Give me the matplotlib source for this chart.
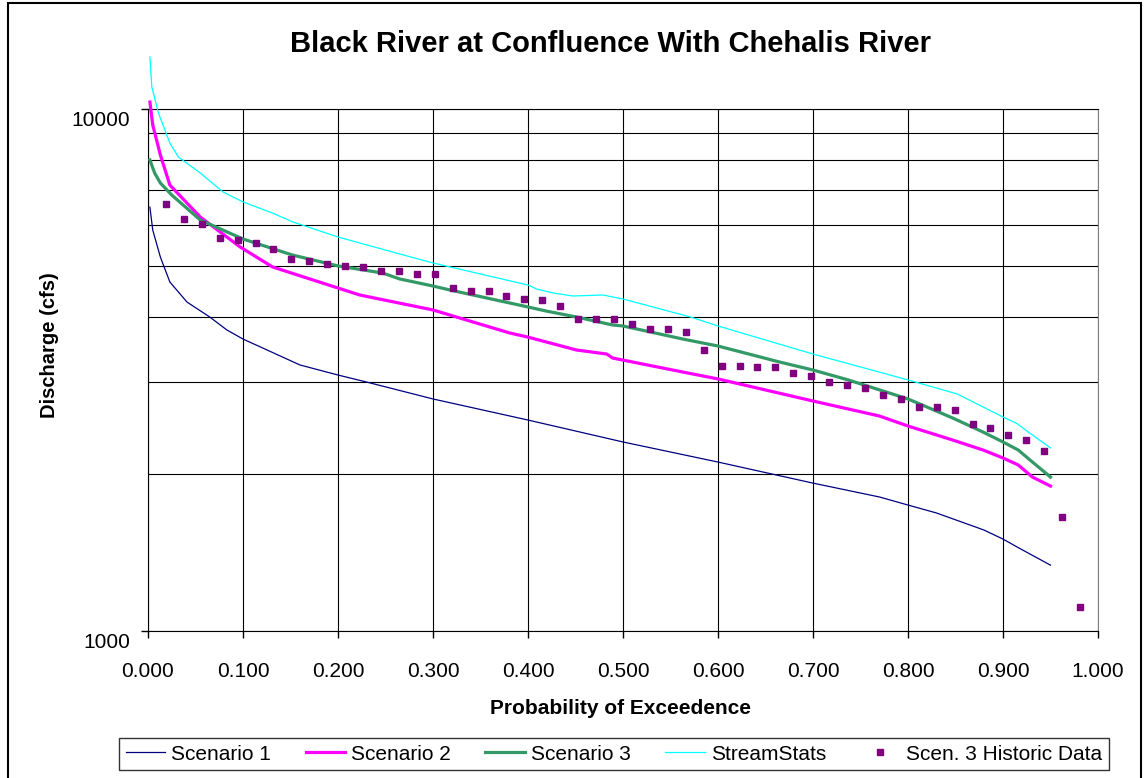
import matplotlib
matplotlib.use("Agg")
import matplotlib.pyplot as plt
import matplotlib.transforms as mtransforms
from matplotlib.patches import Rectangle

plt.rcParams['font.family'] = ['Liberation Sans', 'DejaVu Sans']

# Scenario 1 (probability, discharge)
s1_p = [0.002, 0.005, 0.013, 0.023, 0.041, 0.065, 0.083, 0.100, 0.160, 0.200, 0.230,
        0.300, 0.400, 0.500, 0.600, 0.700, 0.770, 0.800, 0.830, 0.880, 0.900, 0.915, 0.950]
s1_q = [6486, 5862, 5206, 4663, 4268, 3995, 3773, 3625, 3233, 3093, 2999,
        2783, 2536, 2302, 2107, 1920, 1806, 1743, 1683, 1561, 1500, 1448, 1337]

# Scenario 2
s2_p = [0.002, 0.005, 0.013, 0.023, 0.055, 0.097, 0.131, 0.200, 0.223, 0.300, 0.381,
        0.400, 0.451, 0.483, 0.489, 0.563, 0.600, 0.700, 0.770, 0.800, 0.847, 0.879,
        0.900, 0.916, 0.931, 0.950]
s2_q = [10310, 9318, 8166, 7150, 6210, 5441, 4983, 4540, 4402, 4121, 3722,
        3656, 3454, 3393, 3334, 3134, 3040, 2758, 2581, 2470, 2322, 2222,
        2145, 2080, 1972, 1895]

# Scenario 3
s3_p = [0.002, 0.007, 0.013, 0.025, 0.055, 0.100, 0.152, 0.200, 0.247, 0.265, 0.300,
        0.318, 0.400, 0.419, 0.451, 0.489, 0.500, 0.563, 0.600, 0.665, 0.700, 0.737,
        0.800, 0.847, 0.879, 0.900, 0.916, 0.931, 0.950]
s3_q = [7985, 7541, 7215, 6842, 6128, 5636, 5251, 5005, 4850, 4725, 4580,
        4500, 4176, 4102, 3995, 3857, 3840, 3625, 3515, 3275, 3162, 3027,
        2783, 2559, 2405, 2302, 2222, 2107, 1972]

# StreamStats
ss_p = [0.002, 0.004, 0.011, 0.023, 0.032, 0.055, 0.079, 0.100, 0.131, 0.152, 0.200,
        0.223, 0.265, 0.300, 0.400, 0.409, 0.426, 0.447, 0.479, 0.500, 0.571, 0.600,
        0.700, 0.800, 0.852, 0.879, 0.900, 0.914, 0.928, 0.950]
ss_q = [12580, 11020, 9825, 8605, 8090, 7541, 6934, 6637, 6320, 6081, 5686,
        5537, 5275, 5070, 4600, 4520, 4443, 4383, 4402, 4325, 3995, 3840,
        3393, 3027, 2844, 2686, 2570, 2502, 2395, 2242]

# Scen. 3 historic data, plotting position i/53
hist_q = [6577, 6155, 6023, 5660, 5610, 5537, 5394, 5161, 5116, 5049,
          5005, 4983, 4894, 4894, 4829, 4829, 4540, 4481, 4481, 4383,
          4325, 4306, 4194, 3960, 3960, 3960, 3874, 3790, 3790, 3740,
          3454, 3219, 3219, 3205, 3205, 3121, 3080, 2999, 2960, 2921,
          2833, 2783, 2686, 2686, 2651, 2492, 2448, 2373, 2322, 2212,
          1654, 1112]
hist_p = [(i + 1) / (len(hist_q) + 1) for i in range(len(hist_q))]

x_ticks = [0.0, 0.1, 0.2, 0.3, 0.4, 0.5, 0.6, 0.7, 0.8, 0.9, 1.0]

fig = plt.figure(figsize=(11.47, 7.78), dpi=100)
ax = fig.add_axes([148 / 1147, 1 - 631 / 778, 950 / 1147, 522 / 778])

ax.plot(s1_p, s1_q, color='#000080', lw=0.9, label='Scenario 1', clip_on=False, zorder=3)
ax.plot(s2_p, s2_q, color='#FF00FF', lw=2.3, label='Scenario 2', clip_on=False, zorder=3)
ax.plot(s3_p, s3_q, color='#339966', lw=2.3, label='Scenario 3', clip_on=False, zorder=3)
ax.plot(ss_p, ss_q, color='#00FFFF', lw=0.9, label='StreamStats', clip_on=False, zorder=3)
ax.plot(hist_p, hist_q, ls='none', marker='s', ms=5, color='#800080',
        label='Scen. 3 Historic Data', clip_on=False, zorder=4)

ax.set_yscale('log')
ax.set_ylim(1000, 10000)
ax.set_xlim(0, 1)
ax.set_yticks([1000, 10000])
ax.set_yticklabels(['1000', '10000'])
ax.set_yticks([2000, 3000, 4000, 5000, 6000, 7000, 8000, 9000], minor=True)
ax.yaxis.set_minor_formatter(plt.NullFormatter())
ax.set_xticks(x_ticks)
ax.set_xticklabels([f'{v:.3f}' for v in x_ticks])

ax.tick_params(axis='y', which='major', length=5, width=1, direction='out', labelsize=15, pad=8)
ax.tick_params(axis='y', which='minor', length=0)
ax.tick_params(axis='x', length=5, width=1, direction='out', labelsize=15, pad=17)

ax.grid(True, which='both', axis='y', color='black', lw=0.8)
ax.grid(True, which='major', axis='x', color='black', lw=0.8)
ax.set_axisbelow(True)
for side in ['left', 'bottom', 'top']:
    ax.spines[side].set_color('black')
ax.spines['right'].set_color('#808080')

# Excel puts y labels slightly below their ticks
offset = mtransforms.ScaledTranslation(0, -9 / 100, fig.dpi_scale_trans)
for lab in ax.get_yticklabels():
    lab.set_transform(lab.get_transform() + offset)

fig.text(611 / 1147, 1 - 44 / 778, 'Black River at Confluence With Chehalis River',
         ha='center', va='center', fontsize=21, fontweight='bold')
fig.text(620 / 1147, 1 - 708 / 778, 'Probability of Exceedence',
         ha='center', va='center', fontsize=15, fontweight='bold')
fig.text(50 / 1147, 1 - 345 / 778, 'Discharge (cfs)', rotation=90,
         ha='center', va='center', fontsize=14.5, fontweight='bold')

leg = fig.legend(loc='center', bbox_to_anchor=(614 / 1147, 1 - 754 / 778), ncol=5,
                 fontsize=15, frameon=True, fancybox=False, edgecolor='black',
                 handlelength=1.9, handletextpad=0.3, columnspacing=1.64,
                 borderpad=0.3, markerscale=1)
leg.get_frame().set_linewidth(1)

fig.patches.append(Rectangle((8 / 1147, -0.01), 1133 / 1147, 1.0061,
                             transform=fig.transFigure, fill=False,
                             ec='black', lw=1.5))

fig.savefig('out.png', dpi=100)
